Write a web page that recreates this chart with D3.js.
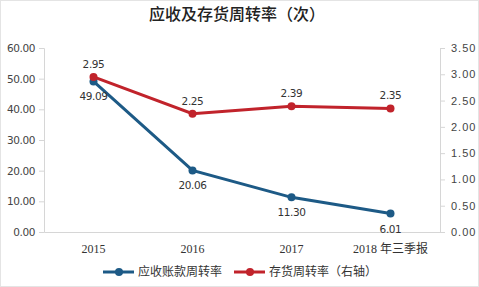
<!DOCTYPE html>
<html>
<head>
<meta charset="utf-8">
<script src="https://cdn.jsdelivr.net/npm/d3@7"></script>
<style>
  body { margin: 0; background: #fff; }
  svg { display: block; }
</style>
</head>
<body>
<div id="viz"></div>
<script>
var categories = ["2015", "2016", "2017", "2018年三季报"];
var receivableTurnover = [49.09, 20.06, 11.30, 6.01];
var inventoryTurnover = [2.95, 2.25, 2.39, 2.35];
var leftTicks = [0, 10, 20, 30, 40, 50, 60];
var rightTicks = [0, 0.5, 1, 1.5, 2, 2.5, 3, 3.5];
var seriesNames = ["应收账款周转率", "存货周转率（右轴）"];

var W = 479, H = 287;
var margin = { top: 48, right: 39, bottom: 55, left: 44 },
  width = W - margin.left - margin.right,
  height = H - margin.top - margin.bottom;

var blue = "#1d5a86", red = "#c1232b", axisColor = "#d6d6d6";

var svg = d3.select("#viz").append("svg")
  .attr("width", W)
  .attr("height", H);

// frame
svg.append("rect")
  .attr("x", 0.5).attr("y", 0.5)
  .attr("width", W - 1).attr("height", H - 1)
  .attr("fill", "#fff")
  .attr("stroke", "#e4e4e4");

// title
svg.append("text")
  .attr("x", 237)
  .attr("y", 20)
  .attr("text-anchor", "middle")
  .style("font-family", "'Noto Sans CJK SC'")
  .style("font-size", "16px")
  .style("font-weight", "500")
  .style("fill", "#222")
  .text("应收及存货周转率（次）");

var g = svg.append("g")
  .attr("transform", "translate(" + margin.left + "," + margin.top + ")");

var xScale = d3.scaleBand().domain(categories).range([0, width]);
var yLeft = d3.scaleLinear().domain([0, 60]).range([height, 0]);
var yRight = d3.scaleLinear().domain([0, 3.5]).range([height, 0]);
var xMid = function (d) { return xScale(d) + xScale.bandwidth() / 2; };

// left axis
var leftAxis = g.append("g")
  .call(d3.axisLeft(yLeft).tickValues(leftTicks).tickFormat(d3.format(".2f")).tickSize(5).tickPadding(4));
leftAxis.select(".domain").attr("stroke", axisColor);
leftAxis.selectAll(".tick line").attr("stroke", axisColor);
leftAxis.selectAll("text")
  .style("font-family", "'DejaVu Sans', Verdana, sans-serif")
  .style("font-size", "10.5px")
  .style("letter-spacing", "-0.4px")
  .style("fill", "#444");

// right axis
var rightAxis = g.append("g")
  .attr("transform", "translate(" + width + ",0)")
  .call(d3.axisRight(yRight).tickValues(rightTicks).tickFormat(d3.format(".2f")).tickSize(5).tickPadding(6));
rightAxis.select(".domain").attr("stroke", axisColor);
rightAxis.selectAll(".tick line").attr("stroke", axisColor);
rightAxis.selectAll("text")
  .style("font-family", "'Liberation Sans', Arial, sans-serif")
  .style("font-size", "11px")
  .style("letter-spacing", "1px")
  .style("fill", "#444");

// bottom axis
var bottomAxis = g.append("g")
  .attr("transform", "translate(0," + height + ")")
  .call(d3.axisBottom(xScale).tickSize(0).tickPadding(12));
bottomAxis.select(".domain").attr("stroke", axisColor);
bottomAxis.selectAll("text")
  .style("font-family", "'Liberation Serif', 'Noto Sans CJK SC', serif")
  .style("font-size", "12px")
  .style("fill", "#333")
  .text(function (d) { return d.replace("年", " 年"); });

// lines
var lineLeft = d3.line()
  .x(function (d, i) { return xMid(categories[i]); })
  .y(function (d) { return yLeft(d); });
var lineRight = d3.line()
  .x(function (d, i) { return xMid(categories[i]); })
  .y(function (d) { return yRight(d); });

g.append("path")
  .datum(receivableTurnover)
  .attr("d", lineLeft)
  .attr("fill", "none")
  .attr("stroke", blue)
  .attr("stroke-width", 3);

g.append("path")
  .datum(inventoryTurnover)
  .attr("d", lineRight)
  .attr("fill", "none")
  .attr("stroke", red)
  .attr("stroke-width", 3);

g.selectAll(".dotL")
  .data(receivableTurnover)
  .enter().append("circle")
  .attr("cx", function (d, i) { return xMid(categories[i]); })
  .attr("cy", function (d) { return yLeft(d); })
  .attr("r", 4)
  .attr("fill", blue);

g.selectAll(".dotR")
  .data(inventoryTurnover)
  .enter().append("circle")
  .attr("cx", function (d, i) { return xMid(categories[i]); })
  .attr("cy", function (d) { return yRight(d); })
  .attr("r", 4)
  .attr("fill", red);

// data labels
var labelFont = "'DejaVu Sans', Verdana, sans-serif";
g.selectAll(".labL")
  .data(receivableTurnover)
  .enter().append("text")
  .attr("x", function (d, i) { return xMid(categories[i]); })
  .attr("y", function (d) { return yLeft(d) + 19; })
  .attr("text-anchor", "middle")
  .style("font-family", labelFont)
  .style("font-size", "10.5px")
  .style("letter-spacing", "-0.4px")
  .style("fill", "#333")
  .text(function (d) { return d3.format(".2f")(d); });

g.selectAll(".labR")
  .data(inventoryTurnover)
  .enter().append("text")
  .attr("x", function (d, i) { return xMid(categories[i]); })
  .attr("y", function (d) { return yRight(d) - 9; })
  .attr("text-anchor", "middle")
  .style("font-family", labelFont)
  .style("font-size", "10.5px")
  .style("letter-spacing", "-0.4px")
  .style("fill", "#333")
  .text(function (d) { return d3.format(".2f")(d); });

// legend
var legendItems = [
  { name: seriesNames[0], color: blue, x: 103 },
  { name: seriesNames[1], color: red, x: 234 }
];
var legend = svg.selectAll(".legend")
  .data(legendItems)
  .enter().append("g")
  .attr("transform", function (d) { return "translate(" + d.x + ",272)"; });
legend.append("line")
  .attr("x1", 0).attr("x2", 31)
  .attr("stroke", function (d) { return d.color; })
  .attr("stroke-width", 3);
legend.append("circle")
  .attr("cx", 16).attr("r", 4)
  .attr("fill", function (d) { return d.color; });
legend.append("text")
  .attr("x", 35)
  .attr("dy", "0.36em")
  .style("font-family", "'Noto Sans CJK SC'")
  .style("font-size", "12px")
  .style("fill", "#333")
  .text(function (d) { return d.name; });
</script>
</body>
</html>
